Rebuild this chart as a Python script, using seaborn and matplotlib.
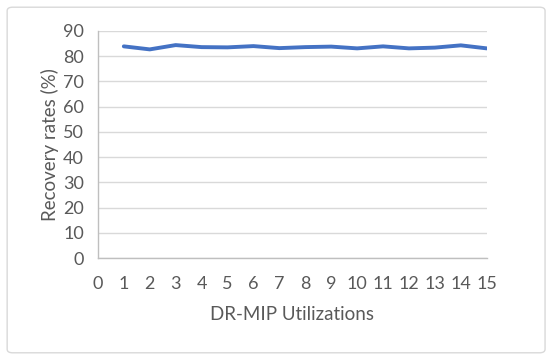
import pandas as pd
import seaborn as sns
import matplotlib.pyplot as plt
from matplotlib.patches import FancyBboxPatch

utilizations = list(range(1, 16))
recovery = [83.9, 82.7, 84.4, 83.6, 83.5, 84.0, 83.2, 83.6, 83.8, 83.1, 83.9, 83.1, 83.4, 84.3, 83.1]
x_ticks = list(range(0, 16))
y_ticks = list(range(0, 100, 10))

df = pd.DataFrame({'util': utilizations, 'rate': recovery})

sns.set_style('white')
plt.rcParams['font.family'] = ['Lato', 'DejaVu Sans']

fig = plt.figure(figsize=(5.5, 3.6), dpi=100)
ax = fig.add_axes([0.178, 0.283, 0.707, 0.631])

sns.lineplot(data=df, x='util', y='rate', ax=ax, color='#4472C4',
             linewidth=2.8, solid_joinstyle='round', solid_capstyle='round')

ax.set_xlim(0, 15)
ax.set_ylim(0, 90)
ax.set_xticks(x_ticks)
ax.set_yticks(y_ticks)
ax.yaxis.grid(True, color='#d9d9d9', linewidth=1)
ax.set_axisbelow(True)
for s in ['top', 'right']:
    ax.spines[s].set_visible(False)
for s in ['left', 'bottom']:
    ax.spines[s].set_color('#bfbfbf')
    ax.spines[s].set_linewidth(1)
ax.tick_params(axis='both', direction='out', length=4, width=1, color='#bfbfbf',
               labelsize=13, labelcolor='#595959', pad=6)
ax.tick_params(axis='x', pad=9)
ax.set_xlabel('DR-MIP Utilizations', fontsize=13.5, color='#595959', labelpad=10)
ax.set_ylabel('Recovery rates (%)', fontsize=13.5, color='#595959', labelpad=3)

border = FancyBboxPatch((0.013, 0.02), 0.978, 0.96, boxstyle='round,pad=0,rounding_size=0.01',
                        transform=fig.transFigure, fill=False, edgecolor='#d9d9d9', linewidth=1)
fig.patches.append(border)

plt.savefig('out.png', dpi=100)
